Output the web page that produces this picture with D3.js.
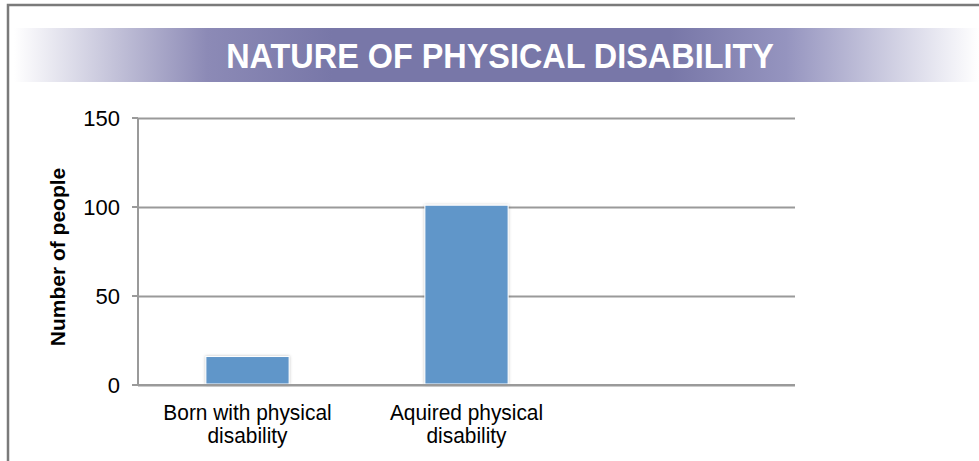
<!DOCTYPE html>
<html><head><meta charset="utf-8">
<script src="https://cdn.jsdelivr.net/npm/d3@7/dist/d3.min.js"></script>
<style>html,body{margin:0;padding:0;background:#fff;overflow:hidden}</style>
</head><body>
<script>
const categories = ["Born with physical|disability", "Aquired physical|disability", ""];
const values = [16, 101, null];
const yTicks = [0, 50, 100, 150];
const titleText = "NATURE OF PHYSICAL DISABILITY";
const yTitle = "Number of people";

const W = 979, H = 461;
const FONT = "Liberation Sans, Arial, sans-serif";
const svg = d3.select("body").append("svg").attr("width", W).attr("height", H);
const defs = svg.append("defs");
const grad = defs.append("linearGradient").attr("id", "band").attr("x1", "0").attr("x2", "1");
[[0, "#ffffff"], [0.2, "#8c8ab6"], [0.33, "#7877a8"], [0.68, "#7877a8"], [0.8, "#9594bf"], [1, "#ffffff"]]
  .forEach(([o, c]) => grad.append("stop").attr("offset", o).attr("stop-color", c));
const sh = defs.append("filter").attr("id", "shadow").attr("x", "-20%").attr("y", "-20%").attr("width", "140%").attr("height", "140%");
sh.append("feDropShadow").attr("dx", 0).attr("dy", 0).attr("stdDeviation", 1.5).attr("flood-color", "#000").attr("flood-opacity", 0.25);

// frame
svg.append("path").attr("d", `M8,${H} L8,5 L${W},5`).attr("fill", "none").attr("stroke", "#7a7a7a").attr("stroke-width", 2.5);

// title band
svg.append("rect").attr("x", 14).attr("y", 28).attr("width", W - 14).attr("height", 54).attr("fill", "url(#band)");
svg.append("text").attr("transform", "translate(500,68) scale(0.9,1)").attr("text-anchor", "middle")
  .attr("font-family", FONT).attr("font-weight", "bold").attr("font-size", 36)
  .attr("fill", "#fff").text(titleText);

const m = {l: 138, r: 795, t: 118, b: 385};
const x = d3.scaleBand().domain(categories).range([m.l, m.r]).paddingInner(0.62).paddingOuter(0.31);
const y = d3.scaleLinear().domain([0, 150]).range([m.b, m.t]);

// gridlines
const gy = svg.append("g").attr("transform", `translate(${m.l},0)`)
  .call(d3.axisLeft(y).tickValues(yTicks).tickSize(-(m.r - m.l)).tickPadding(18).tickFormat(d3.format("d")));
gy.select(".domain").remove();
gy.selectAll(".tick line").attr("stroke", "#9a9a9a").attr("stroke-width", 2);
gy.selectAll(".tick text").attr("font-family", FONT).attr("font-size", 22).attr("fill", "#000").attr("dy", "0.36em");
// small tick extension to the left
svg.append("g").selectAll("line").data(yTicks).join("line")
  .attr("x1", m.l - 6).attr("x2", m.l).attr("y1", d => y(d)).attr("y2", d => y(d))
  .attr("stroke", "#9a9a9a").attr("stroke-width", 2);
// y axis line
svg.append("line").attr("x1", m.l).attr("x2", m.l).attr("y1", m.t).attr("y2", m.b)
  .attr("stroke", "#9a9a9a").attr("stroke-width", 2);

// bars
svg.append("g").selectAll("rect").data(categories.map((c, i) => ({c, v: values[i]})).filter(d => d.v != null))
  .join("rect")
  .attr("x", d => x(d.c)).attr("width", x.bandwidth())
  .attr("y", d => y(d.v)).attr("height", d => y(0) - y(d.v) - 1)
  .attr("fill", "#6096c9").attr("stroke", "#ffffff").attr("stroke-width", 1)
  .attr("filter", "url(#shadow)");

// redraw baseline on top
svg.append("line").attr("x1", m.l - 6).attr("x2", m.r).attr("y1", y(0)).attr("y2", y(0))
  .attr("stroke", "#9a9a9a").attr("stroke-width", 2);

// category labels
const xl = svg.append("g");
categories.forEach(c => {
  if (!c) return;
  const lines = c.split("|");
  const cx = x(c) + x.bandwidth() / 2;
  const t = xl.append("text").attr("text-anchor", "middle")
    .attr("transform", `translate(${cx},0) scale(0.95,1)`)
    .attr("font-family", FONT).attr("font-size", 22).attr("fill", "#000");
  lines.forEach((ln, i) => t.append("tspan").attr("x", 0).attr("y", 420 + i * 23).text(ln));
});

// y title
svg.append("text").attr("transform", `translate(65,257) rotate(-90)`).attr("text-anchor", "middle")
  .attr("font-family", FONT).attr("font-weight", "bold").attr("font-size", 21)
  .attr("fill", "#000").text(yTitle);
</script>
</body></html>
